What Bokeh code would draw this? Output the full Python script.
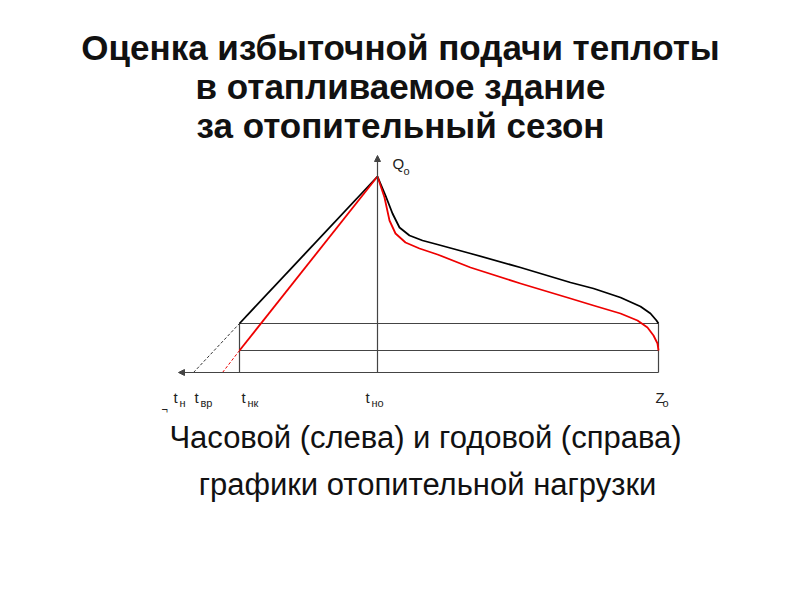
from bokeh.plotting import figure
from bokeh.models import Range1d, Arrow, NormalHead
from bokeh.core.properties import value
from bokeh.embed import file_html
from bokeh.resources import INLINE

# ---------------- data (schematic units) ----------------
# hourly (left) graph: outdoor temperature axis -> heat load
hourly_t = [-138, 0]            # t_нк ... t_но
hourly_black = [49, 196]        # design heat load line
hourly_red = [22, 196]          # actual (reduced) heat load line
extrap_black_t = [-184, -138]   # dashed extension to t_н
extrap_black_q = [0, 49]
extrap_red_t = [-155, -138]     # dashed extension to t_вр
extrap_red_q = [0, 22]

# annual (right) graph: duration -> heat load
annual_z_black = [0, 8, 15, 22, 32, 45, 60, 93, 143, 193, 216, 243, 263, 273, 279, 281]
annual_black = [196, 177, 159, 145, 137, 132, 128, 119, 105, 90, 84, 75, 66, 59, 52, 49]
annual_z_red = [0, 7, 12, 18, 28, 42, 60, 93, 143, 193, 216, 243, 260, 270, 276, 280, 281]
annual_red = [196, 175, 152, 139, 130, 124, 118, 105, 89, 74, 67, 59, 52, 45, 37, 29, 22]

z_end = 281
q_levels = [49, 22]

# axis tick labels (main, subscript, position)
tick_main = ["t", "t", "t", "t", "Z"]
tick_sub = ["н", "вр", "нк", "но", "о"]
tick_pos = [-204, -183, -136, -12, 278]

title_lines = ["Оценка избыточной подачи теплоты", "в отапливаемое здание", "за отопительный сезон"]
caption_lines = ["Часовой (слева) и годовой (справа)", "графики отопительной нагрузки"]

# ---------------- figure ----------------
W, H = 784, 584
p = figure(width=W, height=H, output_backend="svg", toolbar_location=None,
           x_range=Range1d(-377, 407), y_range=Range1d(-212, 372),
           x_axis_type=None, y_axis_type=None, min_border=0,
           background_fill_color="white", border_fill_color="white")
p.outline_line_color = None
p.xgrid.visible = False
p.ygrid.visible = False

AX = "#444444"
FONT = value("Liberation Sans")

# axes with arrows
p.add_layout(Arrow(end=NormalHead(size=6, fill_color=AX, line_color=AX),
                   x_start=z_end, y_start=0, x_end=-199, y_end=0,
                   line_color=AX, line_width=1.2))
p.add_layout(Arrow(end=NormalHead(size=6, fill_color=AX, line_color=AX),
                   x_start=0, y_start=0, x_end=0, y_end=217,
                   line_color=AX, line_width=1.2))

# rectangle lines
for q in q_levels:
    p.line([hourly_t[0], z_end], [q, q], line_color=AX, line_width=1.2)
p.line([hourly_t[0], hourly_t[0]], [0, q_levels[0]], line_color=AX, line_width=1.2)
p.line([z_end, z_end], [0, q_levels[0]], line_color=AX, line_width=1.2)

# dashed extensions
p.line(extrap_black_t, extrap_black_q, line_color="#333333", line_width=1, line_dash="3 2")
p.line(extrap_red_t, extrap_red_q, line_color="#ee0000", line_width=1, line_dash="3 2")

# hourly lines
p.line(hourly_t, hourly_black, line_color="black", line_width=1.8)
p.line(hourly_t, hourly_red, line_color="#ee0000", line_width=1.8)

# annual curves
p.line(annual_z_black, annual_black, line_color="black", line_width=1.8, line_join="round")
p.line(annual_z_red, annual_red, line_color="#ee0000", line_width=1.8, line_join="round")

# tick labels
for m, s, x in zip(tick_main, tick_sub, tick_pos):
    p.text(x=[x], y=[-25], text=[m], text_font=FONT, text_font_size="15px",
           text_color="#222222", text_baseline="alphabetic", text_align="left")
    off = 6 if m == "t" else 7
    p.text(x=[x + off], y=[-30], text=[s], text_font=FONT, text_font_size="11px",
           text_color="#222222", text_baseline="alphabetic", text_align="left")

# Q_o label
p.text(x=[15], y=[209], text=["Q"], text_font=FONT, text_font_size="15px",
       text_color="#222222", text_baseline="alphabetic", text_align="left")
p.text(x=[26], y=[202], text=["о"], text_font=FONT, text_font_size="11px",
       text_color="#222222", text_baseline="alphabetic", text_align="left")

# small mark
p.text(x=[-216], y=[-36], text=["¬"], text_font=FONT, text_font_size="11px",
       text_color="#222222", text_baseline="middle", text_align="left")

# title
for i, line in enumerate(title_lines):
    p.text(x=[23], y=[325 - 39 * i], text=[line], text_font=FONT, text_font_size="35px",
           text_font_style="bold", text_color="#111111",
           text_baseline="middle", text_align="center")

# caption
for i, (line, xc) in enumerate(zip(caption_lines, [48, 50])):
    p.text(x=[xc], y=[-65 - 47 * i], text=[line], text_font=FONT, text_font_size="31px",
           text_color="#111111", text_baseline="middle", text_align="center")

open("out.html", "w").write(file_html(p, INLINE))
